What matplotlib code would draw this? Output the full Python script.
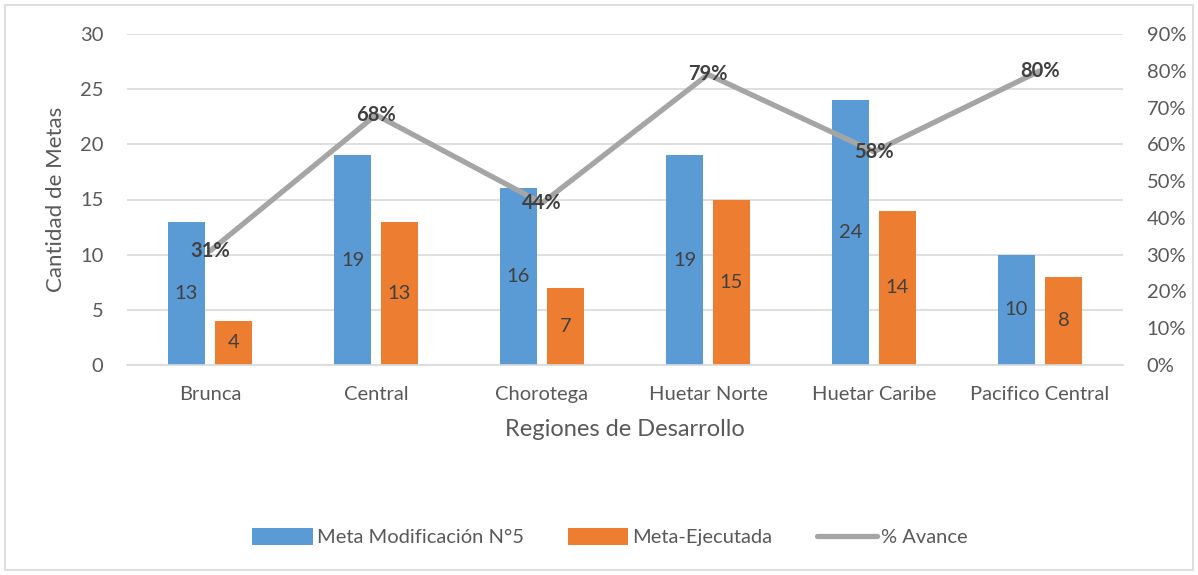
import matplotlib.pyplot as plt
from matplotlib.patches import Rectangle
import numpy as np

# datos
regiones = ["Brunca", "Central", "Chorotega", "Huetar Norte", "Huetar Caribe", "Pacifico Central"]
meta_mod = [13, 19, 16, 19, 24, 10]
meta_ejec = [4, 13, 7, 15, 14, 8]
avance = [31, 68, 44, 79, 58, 80]

azul = "#5B9BD5"
naranja = "#ED7D31"
gris = "#A5A5A5"
texto = "#595959"

plt.rcParams['font.family'] = ['Lato', 'DejaVu Sans']

fig = plt.figure(figsize=(11.98, 5.75), dpi=100)
ax = fig.add_axes([127/1198, 1 - 365/575, 996/1198, 331/575])
ax2 = ax.twinx()

x = np.arange(len(regiones))
w = 0.223
off = 0.1416
b1 = ax.bar(x - off, meta_mod, w, color=azul, zorder=2)
b2 = ax.bar(x + off, meta_ejec, w, color=naranja, zorder=2)
for b, v in zip(b1, meta_mod):
    ax.text(b.get_x() + b.get_width()/2, v/2, str(v), ha='center', va='center',
            fontsize=14.5, color="#404040", zorder=3)
for b, v in zip(b2, meta_ejec):
    ax.text(b.get_x() + b.get_width()/2, v/2, str(v), ha='center', va='center',
            fontsize=14.5, color="#404040", zorder=3)

ln, = ax2.plot(x, [a/100 for a in avance], color=gris, lw=3.8, solid_capstyle='round')
for xi, a in zip(x, avance):
    ax2.text(xi, a/100, f"{a}%", ha='center', va='center', fontsize=14.5,
             fontweight='bold', color="#404040")

ax.set_xlim(-0.5, len(regiones) - 0.5)
ax.set_ylim(0, 30)
ax.set_yticks(range(0, 31, 5))
ax2.set_ylim(0, 0.9)
ax2.set_yticks(np.arange(0, 0.91, 0.1))
ax2.set_yticklabels([f"{int(round(t*100))}%" for t in np.arange(0, 0.91, 0.1)])

ax.set_xticks(x)
ax.set_xticklabels(regiones)
ax.yaxis.grid(True, color="#D9D9D9", lw=1.2, zorder=0)
ax.set_axisbelow(True)

for a in (ax, ax2):
    for s in a.spines.values():
        s.set_visible(False)
    a.tick_params(length=0, labelsize=14.5, colors=texto)
ax.spines['bottom'].set_visible(True)
ax.spines['bottom'].set_color("#D9D9D9")
ax.spines['bottom'].set_linewidth(1.2)
ax.tick_params(axis='y', pad=17)
ax.tick_params(axis='x', pad=15)
ax2.tick_params(axis='y', pad=17)

ax.set_ylabel("Cantidad de Metas", fontsize=16, color=texto, labelpad=10)
ax.set_xlabel("Regiones de Desarrollo", fontsize=17, color=texto, labelpad=12)

fig.legend([b1, b2, ln], ["Meta Modificación N°5", "Meta-Ejecutada", "% Avance"],
           loc='center', bbox_to_anchor=(610/1198, 1 - 537/575), ncol=3, frameon=False,
           fontsize=14.5, labelcolor=texto, handlelength=3.0, handleheight=0.9,
           columnspacing=2.2, handletextpad=0.2)

fig.patches.append(Rectangle((5/1198, 5/575), 1188/1198, 565/575, transform=fig.transFigure,
                             fill=False, edgecolor="#D9D9D9", lw=1.2))

fig.savefig("out.png", dpi=100)
